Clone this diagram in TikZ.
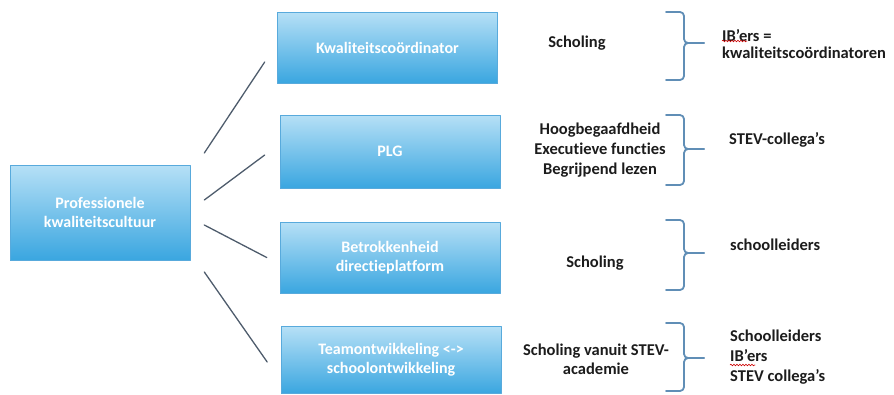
\documentclass[tikz,border=0pt]{standalone}
\usepackage{fontspec}
\setmainfont{Carlito}[Ligatures={NoCommon}]
\usetikzlibrary{decorations.pathmorphing}
\definecolor{blauwlicht}{RGB}{182,224,246}
\definecolor{blauwdonker}{RGB}{58,166,224}
\definecolor{blauwrand}{RGB}{88,170,220}
\definecolor{haakkleur}{RGB}{96,142,182}
\definecolor{lijnkleur}{RGB}{78,92,108}
\definecolor{tekstkleur}{RGB}{28,28,28}
\begin{document}
\begin{tikzpicture}[x=1pt, y=-1pt, line join=round, line cap=round,
	font=\fontsize{16.5}{19}\selectfont\bfseries,
	blok/.style={draw=blauwrand, line width=0.6pt, top color=blauwlicht, bottom color=blauwdonker,
		text=white, align=center, minimum width=220pt, minimum height=71pt, inner sep=2pt,
		font=\fontsize{16}{19}\selectfont\bfseries},
	tekst/.style={text=tekstkleur, inner sep=1pt},
	lijn/.style={draw=lijnkleur, line width=1.3pt},
	haakje/.style={draw=haakkleur, line width=1.8pt, rounded corners=4pt}]
	\useasboundingbox (0,0) rectangle (894,394);
	% blokken
	\node[blok, minimum width=180pt, minimum height=95pt] (prof) at (100,212.5) {Professionele\\kwaliteitscultuur};
	\node[blok] (kc) at (387.5,47.5) {Kwaliteitscoördinator};
	\node[blok, minimum height=73pt] (plg) at (390,151.5) {PLG};
	\node[blok] (dir) at (390,257.5) {Betrokkenheid\\directieplatform};
	\node[blok, minimum height=67pt] (team) at (391,360) {Teamontwikkeling <->\\schoolontwikkeling};
	% lijnen
	\draw[lijn] ([xshift=14pt,yshift=59.5pt]prof.east) -- ([xshift=-12.5pt,yshift=-14.5pt]kc.west);
	\draw[lijn] ([xshift=14pt,yshift=12.5pt]prof.east) -- ([xshift=-15pt,yshift=-3.5pt]plg.west);
	\draw[lijn] ([xshift=14pt,yshift=-12.5pt]prof.east) -- ([xshift=-13pt]dir.west);
	\draw[lijn] ([xshift=14pt,yshift=-59.5pt]prof.east) -- ([xshift=-13.5pt,yshift=-2pt]team.west);
	% accolades
	\foreach \yb/\ym/\yo in {12/43/80, 115/149/185, 220/253/290, 323/358/391}{
		\draw[haakje] (666,\yb) -- (684,\yb) -- (684,\ym) -- (704,\ym);
		\draw[haakje] (666,\yo) -- (684,\yo) -- (684,\ym) -- (704,\ym);
	}
	% teksten
	\node[tekst] (m1) at (577,43) {Scholing};
	\node[tekst, align=center, font=\fontsize{16.5}{20}\selectfont\bfseries] (m2) at (600,150) {Hoogbegaafdheid\\Executieve functies\\Begrijpend lezen};
	\node[tekst] (m3) at (595,263) {Scholing};
	\node[tekst, align=center] (m4) at (596,359) {Scholing vanuit STEV-\\academie};
	\node[tekst, anchor=west, align=left, font=\fontsize{16.5}{17}\selectfont\bfseries] (r1) at (721,44) {IB’ers =\\kwaliteitscoördinatoren};
	\node[tekst, anchor=west] (r2) at (728,140) {STEV-collega’s};
	\node[tekst, anchor=west] (r3) at (729,245) {schoolleiders};
	\node[tekst, anchor=west, align=left, font=\fontsize{16.5}{20}\selectfont\bfseries] (r4) at (729,357) {Schoolleiders\\IB’ers\\STEV collega’s};
	% spellingscontrole
	\draw[red!80!black, line width=0.6pt, decorate, decoration={snake, amplitude=0.8pt, segment length=3pt}] (722,41) -- (747,41);
	\draw[red!80!black, line width=0.6pt, decorate, decoration={snake, amplitude=0.8pt, segment length=3pt}] (730,365) -- (755,365);
\end{tikzpicture}
\end{document}
